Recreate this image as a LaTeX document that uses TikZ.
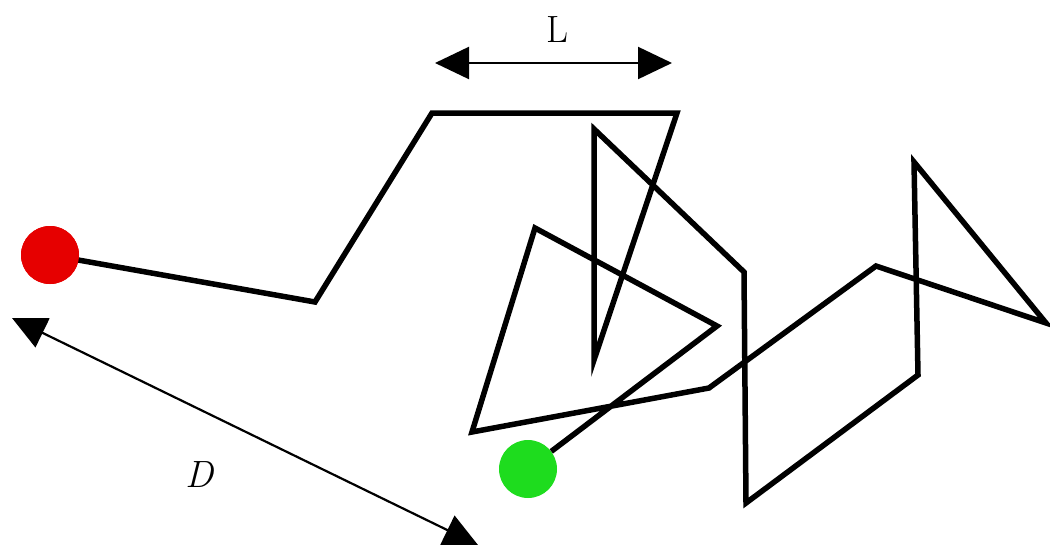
\documentclass[tikz,border=0pt]{standalone}
\usetikzlibrary{arrows.meta}
\begin{document}
\begin{tikzpicture}[x=1pt,y=-1pt,
  walk/.style={line width=5.5pt,line join=miter,line cap=butt},
  dimarrow/.style={line width=2.2pt,{Triangle[length=34pt,width=32pt]}-{Triangle[length=34pt,width=32pt]}},
  dot/.style={circle,inner sep=0pt,minimum size=58pt}]
\useasboundingbox (0,0) rectangle (1050,549);
\coordinate (p1) at (315,302);
\coordinate (p2) at (432,113);
\coordinate (p3) at (677,113);
\coordinate (p4) at (594,360);
\coordinate (p5) at (594,129);
\coordinate (p6) at (744,272);
\coordinate (p7) at (746,503);
\coordinate (p8) at (918,375);
\coordinate (p9) at (914,162);
\coordinate (p10) at (1046,323);
\coordinate (p11) at (876,266);
\coordinate (p12) at (709,388);
\coordinate (p13) at (472,432);
\coordinate (p14) at (535,228);
\coordinate (p15) at (717,326);
\node[dot,fill={rgb,255:red,230;green,0;blue,0}] (r) at (50,255) {};
\node[dot,fill={rgb,255:red,30;green,220;blue,30}] (g) at (528,469) {};
\draw[walk] (r.center) -- (p1) -- (p2) -- (p3) -- (p4) -- (p5) -- (p6) -- (p7) -- (p8) -- (p9) -- (p10) -- (p11) -- (p12) -- (p13) -- (p14) -- (p15) -- (g);
\node[dot,fill={rgb,255:red,230;green,0;blue,0}] at (50,255) {};
\coordinate (la) at (435,63);
\coordinate (lb) at (672,63);
\draw[dimarrow] (la) -- (lb);
\node[font=\fontsize{38}{42}\selectfont] (Ltext) at (557,30) {L};
\coordinate (da) at (12,318);
\coordinate (db) at (478,545);
\draw[dimarrow] (da) -- (db);
\node[font=\fontsize{38}{42}\selectfont\itshape] (Dtext) at (200,475) {D};
\end{tikzpicture}
\end{document}
